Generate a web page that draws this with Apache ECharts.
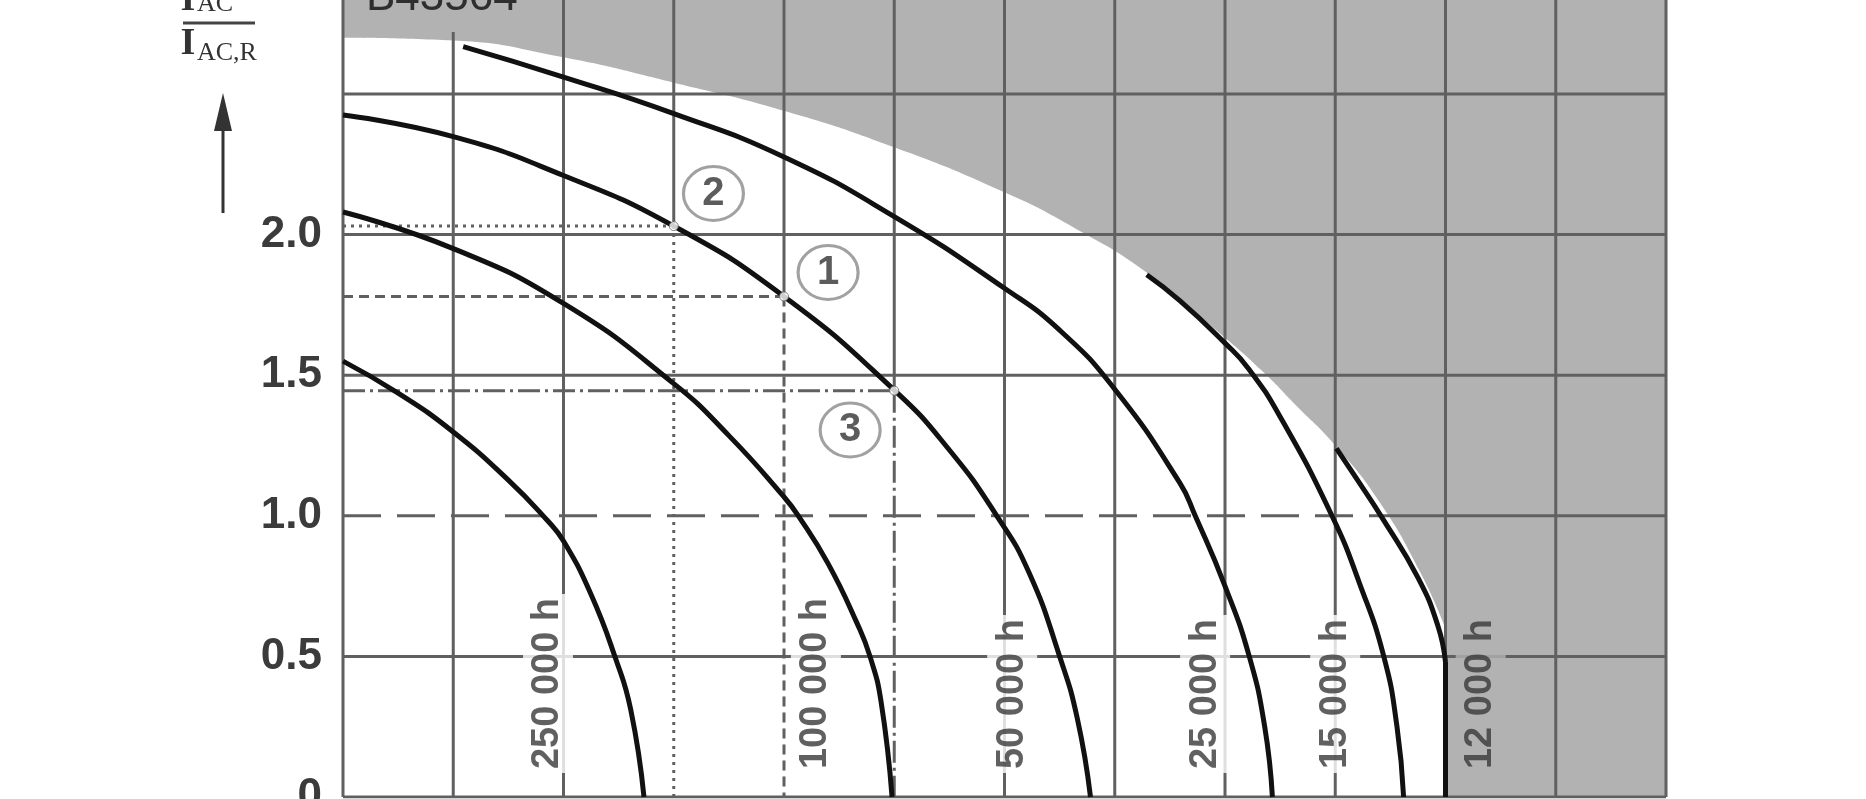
<!DOCTYPE html>
<html>
<head>
<meta charset="utf-8">
<script src="https://cdn.jsdelivr.net/npm/echarts@6/dist/echarts.min.js"></script>
<style>
html,body{margin:0;padding:0;background:#fff;}
#c{width:1866px;height:799px;}
</style>
</head>
<body>
<div id="c"></div>
<script>
// ---------- data (ambient temperature T_A in °C, ratio I_AC / I_AC,R) ----------
const xTicks = [35, 40, 45, 50, 55, 60, 65, 70, 75, 80, 85, 90, 95];
const yTicks = [0, 0.5, 1.0, 1.5, 2.0, 2.5];
const yTickLabels = ['0', '0.5', '1.0', '1.5', '2.0', ''];
const Y_MAX = 2.834;

// vertical grid line tops (the 40 °C line stops at the shaded zone)
const vGridTop = [Y_MAX, 2.72, Y_MAX, Y_MAX, Y_MAX, Y_MAX, Y_MAX, Y_MAX, Y_MAX, Y_MAX, Y_MAX, Y_MAX, Y_MAX];
// the 1.0 line is dashed up to this temperature, solid inside the shaded zone
const dashedOneUntil = 82.3;

const life250k = [[35,1.55],[37.5,1.436],[40,1.298],[42.5,1.127],[44.25,0.985],[45,0.91],[46.25,0.72],[47.35,0.495],[48.05,0.31],[48.65,0]];
const life100k = [[35,2.08],[40,1.95],[45,1.755],[50,1.47],[52.5,1.285],[55,1.067],[55.65,1.0],[57,0.83],[58.3,0.62],[58.9,0.5],[59.4,0.34],[59.9,0]];
const life50k  = [[35,2.425],[40,2.348],[45,2.21],[50,2.03],[55,1.78],[60,1.447],[62.5,1.234],[64.65,1.0],[66.1,0.8],[67.5,0.5],[68.3,0.28],[68.9,0]];
const life25k  = [[40.45,2.668],[45,2.56],[50,2.43],[55,2.276],[60,2.064],[65,1.809],[67.5,1.66],[70,1.45],[72.95,1.117],[73.65,1.0],[75,0.75],[76.1,0.5],[76.8,0.25],[77.15,0]];
const life15k  = [[71.45,1.857],[72.95,1.765],[75,1.614],[76.05,1.525],[77.5,1.352],[79.85,1.0],[81.1,0.76],[82.2,0.5],[82.8,0.25],[83.1,0]];
const life12k  = [[80.05,1.24],[80.9,1.14],[82.15,0.99],[83.75,0.78],[84.65,0.61],[85,0.48]];
const curves = [life250k, life100k, life50k, life25k, life15k, life12k];

const curveLabelText = ['250 000 h', '100 000 h', '50 000 h', '25 000 h', '15 000 h', '12 000 h'];
const curveLabelX    = [44.3, 56.45, 65.35, 74.1, 80.0, 86.6];
const curveLabelY    = 0.085;

// shaded (not permissible) zone: lower boundary, then the zone right of 85 °C
const grayBoundary = [[35,2.70],[40,2.69],[45,2.63],[50,2.54],[55,2.44],[60,2.31],[65,2.15],[68.25,2.02],[71.45,1.865],[74.75,1.65],[76.75,1.51],[78.25,1.39],[80,1.25],[82,1.05],[83.85,0.8],[85,0.6]];
const grayRightZone = [[85,0],[95,0]];

// operating points on the 50 000 h curve
const pointNames  = ['2', '1', '3'];
const pointValues = [[50,2.03],[55,1.78],[60,1.445]];
const pointTagAt  = [[51.8,2.146],[57.0,1.865],[58.0,1.305]];

// ---------- styles ----------
const GRID = '#606060';
const GRAY = '#b2b2b2';
const guideTypes = [[3,5],[10,6],[22,5,3,5]];

function seg(points, type, z) {
  return {type:'line', data:points, symbol:'none', silent:true, z:z||2,
          lineStyle:{color:GRID, width:3, type:type||'solid'}};
}
function curve(points, smooth) {
  return {type:'line', data:points, smooth:smooth, symbol:'none', silent:true, z:3,
          lineStyle:{color:'#111', width:5}};
}

const series = [];
// shaded zone
series.push({type:'line', data:grayBoundary, smooth:0.5, symbol:'none', silent:true, z:1,
  lineStyle:{width:0, opacity:0}, areaStyle:{color:GRAY, opacity:1, origin:'end'}});
series.push({type:'line', data:grayRightZone, symbol:'none', silent:true, z:1,
  lineStyle:{width:0, opacity:0}, areaStyle:{color:GRAY, opacity:1, origin:'end'}});

// vertical grid lines
xTicks.forEach((x, k) => {
  const g = pointValues.findIndex(p => p[0] === x);
  const bottom = g >= 0 ? pointValues[g][1] : 0;
  series.push(seg([[x, bottom], [x, vGridTop[k]]]));
});
// horizontal grid lines
yTicks.forEach(y => {
  if (y === 1.0) {
    series.push(seg([[xTicks[0], y], [dashedOneUntil, y]], [38, 16]));
    series.push(seg([[dashedOneUntil, y], [xTicks[xTicks.length-1], y]]));
  } else {
    series.push(seg([[xTicks[0], y], [xTicks[xTicks.length-1], y]]));
  }
});
// guide lines for the operating points
pointValues.forEach((p, k) => {
  series.push(seg([[xTicks[0], p[1]], [p[0], p[1]]], guideTypes[k]));
  series.push(seg([[p[0], p[1]], [p[0], 0]], guideTypes[k]));
});

// life curves
curves.forEach(c => series.push(curve(c, 0.5)));
// 12 000 h curve drops straight down at its end
const last12k = life12k[life12k.length-1];
series.push(curve([last12k, [last12k[0], 0]], false));

// small white dots at the operating points
series.push({type:'scatter', data:pointValues, symbol:'circle', symbolSize:9, silent:true, z:4,
  itemStyle:{color:'#fff', borderColor:'#666', borderWidth:1}});

// circled numbers
series.push({type:'scatter', z:4, silent:true,
  data: pointTagAt.map((p, k) => [p[0], p[1], pointNames[k]]),
  symbol:'circle', symbolSize:[60,54],
  itemStyle:{color:'#fff', borderColor:'#8a8a8a', borderWidth:3},
  label:{show:true, position:'inside', formatter:p => p.data[2],
         fontSize:40, fontWeight:'bold', color:'#333', fontFamily:'Liberation Sans'}});

// rotated curve labels
const grayStartX = grayRightZone[0][0];
series.push({type:'scatter', z:5, silent:true, symbolSize:0.1,
  itemStyle:{color:'rgba(0,0,0,0)'},
  data: curveLabelX.map((x, k) => ({
    value:[x, curveLabelY, curveLabelText[k]],
    label:{backgroundColor: x > grayStartX ? GRAY : '#fff'}
  })),
  label:{show:true, position:[0,0], rotate:90, align:'left', verticalAlign:'middle',
         formatter:p => p.value[2],
         fontSize:38, fontWeight:'bold', color:'#383838', fontFamily:'Liberation Sans', padding:[6,4]}});

const chart = echarts.init(document.getElementById('c'), null, {renderer:'canvas'});
chart.setOption({
  animation:false,
  backgroundColor:'#fff',
  grid:{left:343, right:200, top:0, bottom:2, containLabel:false, outerBoundsMode:'none'},
  xAxis:{type:'value', min:xTicks[0], max:xTicks[xTicks.length-1], interval:5,
         axisLine:{show:false}, axisTick:{show:false}, splitLine:{show:false}, axisLabel:{show:false}},
  yAxis:{type:'value', min:0, max:Y_MAX, interval:0.5,
         axisLine:{show:false}, axisTick:{show:false}, splitLine:{show:false},
         axisLabel:{show:true, margin:21, showMaxLabel:false, fontSize:44, fontWeight:'bold',
                    color:'#3b3b3b', fontFamily:'Liberation Sans',
                    formatter:v => { const k = yTicks.findIndex(t => Math.abs(t - v) < 1e-6); return k >= 0 ? yTickLabels[k] : ''; }}},
  graphic:[
    {type:'text', x:366, y:20, z:10, style:{text:'B43564', fontSize:44, fill:'#2e2e2e', fontFamily:'Liberation Sans', verticalAlign:'bottom', align:'left'}},
    {type:'text', x:188, y:0, z:10, style:{text:'I', fontSize:38, fill:'#333', fontFamily:'Liberation Serif', fontWeight:'bold', verticalAlign:'middle', align:'center'}},
    {type:'text', x:197, y:4, z:10, style:{text:'AC', fontSize:26, fill:'#333', fontFamily:'Liberation Serif', verticalAlign:'middle', align:'left'}},
    {type:'rect', z:10, shape:{x:183, y:21.5, width:72, height:3}, style:{fill:'#444'}},
    {type:'text', x:188, y:44, z:10, style:{text:'I', fontSize:38, fill:'#333', fontFamily:'Liberation Serif', fontWeight:'bold', verticalAlign:'middle', align:'center'}},
    {type:'text', x:197, y:53, z:10, style:{text:'AC,R', fontSize:26, fill:'#333', fontFamily:'Liberation Serif', verticalAlign:'middle', align:'left'}},
    {type:'line', z:10, shape:{x1:223, y1:213, x2:223, y2:125}, style:{stroke:'#333', lineWidth:3}},
    {type:'polygon', z:10, shape:{points:[[214,131],[232,131],[223,93]]}, style:{fill:'#333'}}
  ],
  series: series
});
</script>
</body>
</html>
